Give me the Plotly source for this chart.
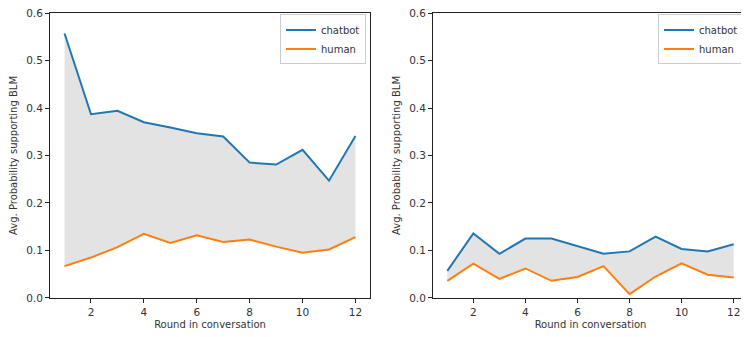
import plotly.graph_objects as go

rounds = list(range(1, 13))

left_chatbot = [0.557, 0.387, 0.394, 0.370, 0.359, 0.347, 0.340, 0.285, 0.281, 0.312, 0.247, 0.341]
left_human = [0.067, 0.085, 0.107, 0.135, 0.116, 0.132, 0.118, 0.123, 0.108, 0.095, 0.102, 0.128]

right_chatbot = [0.057, 0.136, 0.093, 0.125, 0.125, 0.109, 0.093, 0.098, 0.129, 0.103, 0.098, 0.113]
right_human = [0.036, 0.072, 0.040, 0.062, 0.036, 0.044, 0.067, 0.008, 0.045, 0.073, 0.049, 0.043]

x_ticks = [2, 4, 6, 8, 10, 12]
y_ticks = [0.0, 0.1, 0.2, 0.3, 0.4, 0.5, 0.6]
y_label = "Avg. Probability supporting BLM"
x_label = "Round in conversation"

BLUE = "#1f77b4"
ORANGE = "#ff7f0e"
FILL = "rgba(200,200,200,0.5)"
TXT = "#333333"

fig = go.Figure()

panels = [
    ("x", "y", "legend", left_chatbot, left_human),
    ("x2", "y2", "legend2", right_chatbot, right_human),
]

for xa, ya, lg, cb, hu in panels:
    # fill between the two series
    fig.add_trace(go.Scatter(x=rounds, y=hu, xaxis=xa, yaxis=ya, mode="lines",
                             line=dict(width=0.6, color="rgba(180,180,180,0.6)"),
                             showlegend=False, hoverinfo="skip"))
    fig.add_trace(go.Scatter(x=rounds, y=cb, xaxis=xa, yaxis=ya, mode="lines",
                             line=dict(width=0.6, color="rgba(180,180,180,0.6)"),
                             fill="tonexty", fillcolor=FILL,
                             showlegend=False, hoverinfo="skip"))
    fig.add_trace(go.Scatter(x=rounds, y=cb, xaxis=xa, yaxis=ya, mode="lines",
                             name="chatbot", legend=lg,
                             line=dict(color=BLUE, width=2)))
    fig.add_trace(go.Scatter(x=rounds, y=hu, xaxis=xa, yaxis=ya, mode="lines",
                             name="human", legend=lg,
                             line=dict(color=ORANGE, width=2)))

# page body adds ~8px offset; figure sized to fill the rest of the 749x337 window
W, H = 741, 329
axis_common = dict(showline=True, linecolor="#222222", linewidth=1, mirror=True,
                   ticks="outside", ticklen=4, tickcolor="#222222", tickwidth=1,
                   showgrid=False, zeroline=False, ticklabeloverflow="allow",
                   tickfont=dict(size=10.5, color=TXT, family="DejaVu Sans"))

xax = dict(range=[0.45, 12.55], tickvals=x_ticks, ticktext=[str(t) for t in x_ticks],
           title=dict(text=x_label, font=dict(size=10, color=TXT, family="DejaVu Sans"), standoff=4),
           **axis_common)
yax = dict(range=[-0.0002, 0.6002], tickvals=y_ticks, ticktext=[f"{t:.1f}" for t in y_ticks],
           title=dict(text=y_label, font=dict(size=10, color=TXT, family="DejaVu Sans"), standoff=6),
           **axis_common)

legend_style = dict(bgcolor="white", bordercolor="#cccccc", borderwidth=1,
                    font=dict(size=10, color=TXT, family="DejaVu Sans"),
                    xanchor="right", yanchor="top", tracegroupgap=0,
                    traceorder="normal", itemwidth=30)

fig.update_layout(
    width=W, height=H,
    margin=dict(l=0, r=0, t=5, b=39),
    paper_bgcolor="white", plot_bgcolor="white",
    xaxis=dict(domain=[42 / W, 362 / W], anchor="y", **xax),
    yaxis=dict(domain=[0, 1], anchor="x", **yax),
    xaxis2=dict(domain=[425 / W, 740 / W], anchor="y2", **xax),
    yaxis2=dict(domain=[0, 1], anchor="x2", **yax),
    legend=dict(x=358 / W, y=0.995, **legend_style),
    legend2=dict(x=736 / W, y=0.995, **legend_style),
    showlegend=True,
)

fig.write_html("out.html")
